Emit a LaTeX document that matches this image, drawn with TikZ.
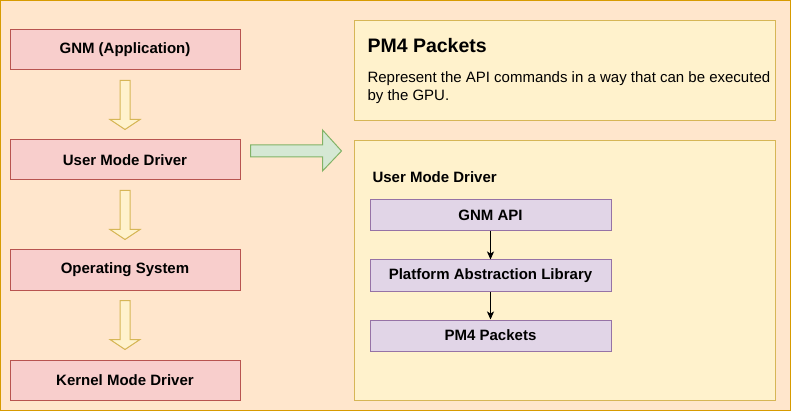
\documentclass[tikz,border=0pt]{standalone}
\usepackage{fontspec}
\setmainfont{Liberation Sans}
\usetikzlibrary{positioning,calc,arrows.meta}
\definecolor{outerfill}{HTML}{FFE6CC}
\definecolor{outerline}{HTML}{D79B00}
\definecolor{redfill}{HTML}{F8CECC}
\definecolor{redline}{HTML}{B85450}
\definecolor{yellowfill}{HTML}{FFF2CC}
\definecolor{yellowline}{HTML}{D6B656}
\definecolor{greenfill}{HTML}{D5E8D4}
\definecolor{greenline}{HTML}{82B366}
\definecolor{purplefill}{HTML}{E1D5E7}
\definecolor{purpleline}{HTML}{9673A6}
\newcommand{\labelfont}{\fontsize{15}{18}\selectfont\bfseries}

\begin{document}
\begin{tikzpicture}[x=1pt,y=-1pt,line width=1pt,
		layer/.style={draw=redline,fill=redfill,minimum width=230pt,minimum height=40pt,font=\labelfont},
		part/.style={draw=purpleline,fill=purplefill,minimum width=241pt,minimum height=31pt,font=\labelfont},
		panel/.style={draw=yellowline,fill=yellowfill,minimum width=421pt,anchor=north west},
		flow/.style={draw=yellowline,fill=yellowfill,line join=miter},
		>={Stealth[length=8pt,width=7pt,inset=2pt]}]
				\def\gap{69pt};
				\def\step{28pt};
				\useasboundingbox (0,0) rectangle (791,411);
				\draw[draw=outerline,fill=outerfill] (0.5,0.5) rectangle (790.5,410.5);
				% left column
				\node[layer] (app) at (125,50) {GNM (Application)};
				\node[layer,below=\gap of app] (umd) {User Mode Driver};
				\node[layer,below=\gap of umd] (os) {Operating System};
				\node[layer,below=\gap of os] (kmd) {Kernel Mode Driver};
				\foreach \a/\b in {app/umd,umd/os,os/kmd}
					\draw[flow] ($(\a.south)+(-5,10)$) -- ($(\b.north)+(-5,-20)$) -- ($(\b.north)+(-15,-20)$)
					-- ($(\b.north)+(0,-10)$) -- ($(\b.north)+(15,-20)$) -- ($(\b.north)+(5,-20)$)
					-- ($(\a.south)+(5,10)$) -- cycle;
				% right panels
				\node[panel,minimum height=100pt] (info) at (354,20) {};
				\node[anchor=base west,inner sep=0,font=\fontsize{19.5}{22}\selectfont\bfseries] (infotitle) at (367,53) {PM4 Packets};
				\node[anchor=north west,inner sep=0,align=left,font=\fontsize{15}{17.8}\selectfont] (infotext) at (367,71)
					{Represent the API commands in a way that can be executed\\by the GPU.};
				\node[panel,minimum height=260pt] (driver) at (354,140) {};
				\node[anchor=base west,inner sep=0,font=\labelfont] (drvtitle) at (372,183) {User Mode Driver};
				\node[part] (api) at (490.5,215.5) {GNM API};
				\node[part,below=\step of api] (pal) {Platform Abstraction Library};
				\node[part,below=\step of pal] (pm4) {PM4 Packets};
				\draw[->] (api) -- (pal);
				\draw[->] (pal) -- (pm4);
				% zoom arrow
				\draw[draw=greenline,fill=greenfill] ($(umd.east)+(10,-15)$) -- ($(umd.east)+(82,-15)$) -- ($(umd.east)+(82,-30)$)
				-- ($(umd.east)+(101,-9)$) -- ($(umd.east)+(82,11)$) -- ($(umd.east)+(82,-3)$) -- ($(umd.east)+(10,-3)$) -- cycle;
\end{tikzpicture}
\end{document}
